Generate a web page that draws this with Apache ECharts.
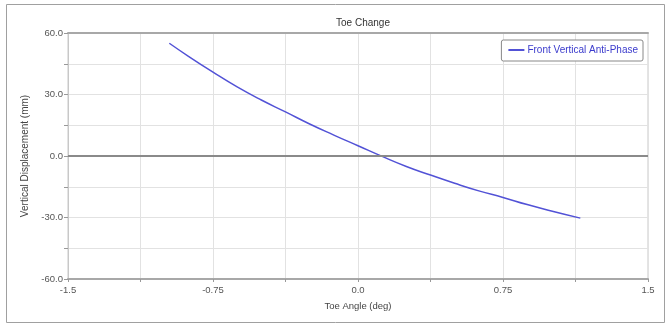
<!DOCTYPE html>
<html><head><meta charset="utf-8">
<script src="https://cdn.jsdelivr.net/npm/echarts@6/dist/echarts.min.js"></script>
<style>html,body{margin:0;padding:0;background:#fff}#c{width:672px;height:325px}</style>
</head><body><div id="c"></div>
<script>
var toeAngle = [-0.976, -0.875, -0.75, -0.625, -0.5, -0.375, -0.25, -0.125, 0, 0.125, 0.25, 0.375, 0.5, 0.625, 0.75, 0.875, 1.0, 1.15];
var verticalDisp = [55.0, 48.5, 40.9, 33.7, 27.3, 21.5, 15.6, 10.2, 5.0, -0.2, -5.1, -9.3, -13.3, -17.0, -20.2, -23.7, -26.8, -30.3];
var xTickLabels = ['-1.5', '-0.75', '0.0', '0.75', '1.5'];
var yTickLabels = ['60.0', '30.0', '0.0', '-30.0', '-60.0'];
var seriesName = 'Front Vertical Anti-Phase';

var chart = echarts.init(document.getElementById('c'), null, {renderer: 'canvas'});
var font = 'Liberation Sans, Arial, sans-serif';
var data = toeAngle.map(function (x, i) { return [x, verticalDisp[i]]; });

chart.setOption({
  animation: false,
  backgroundColor: '#fff',
  title: {
    text: 'Toe Change', left: 358, top: 13, textAlign: 'center',
    textStyle: {fontFamily: font, fontSize: 10, fontWeight: 'normal', color: '#333'}
  },
  legend: {
    data: [seriesName], right: 29, top: 40,
    backgroundColor: '#fff', borderColor: '#888', borderWidth: 1, borderRadius: 2,
    padding: [5, 5, 6, 7], itemWidth: 16, itemHeight: 2, itemGap: 4,
    icon: 'rect',
    textStyle: {fontFamily: font, fontSize: 10, color: '#3a3acc', padding: [0, 0, 0, -2]}
  },
  grid: {left: 68, right: 24, top: 33, bottom: 46, show: true, borderColor: '#c8c8c8', borderWidth: 1},
  graphic: [{
    type: 'rect', shape: {x: 6.5, y: 4.5, width: 658, height: 318},
    style: {fill: 'none', stroke: '#a0a0a0', lineWidth: 1}, silent: true, z: -1
  }],
  xAxis: [{
    type: 'value', min: -1.5, max: 1.5, interval: 0.375, position: 'bottom',
    name: 'Toe Angle (deg)', nameLocation: 'middle', nameGap: 22,
    nameTextStyle: {fontFamily: font, fontSize: 9.5, color: '#444'},
    axisLine: {show: true, onZero: false, lineStyle: {color: '#a8a8a8', width: 2}},
    axisTick: {show: true, length: 3, lineStyle: {color: '#999'}, interval: 0},
    splitLine: {show: true, lineStyle: {color: '#e2e2e2', width: 1}},
    axisLabel: {
      fontFamily: font, fontSize: 9.5, color: '#555', margin: 6, showMaxLabel: true, showMinLabel: true,
      formatter: function (v) {
        var k = Math.round((v + 1.5) / 0.375);
        return k % 2 === 0 ? xTickLabels[k / 2] : '';
      }
    }
  }, {
    type: 'value', min: -1.5, max: 1.5, interval: 0.375, position: 'top',
    axisLine: {show: true, onZero: false, lineStyle: {color: '#a8a8a8', width: 2}},
    axisTick: {show: false}, axisLabel: {show: false}, splitLine: {show: false}
  }],
  yAxis: {
    type: 'value', min: -60, max: 60, interval: 15, position: 'left',
    name: 'Vertical Displacement (mm)', nameLocation: 'middle', nameGap: 38, nameRotate: 90,
    nameTextStyle: {fontFamily: font, fontSize: 10, color: '#444'},
    axisLine: {show: true, onZero: false, lineStyle: {color: '#c8c8c8'}},
    axisTick: {show: true, length: 4, lineStyle: {color: '#999'}},
    splitLine: {show: true, lineStyle: {color: '#e2e2e2', width: 1}},
    axisLabel: {
      fontFamily: font, fontSize: 9.5, color: '#555', margin: 5,
      formatter: function (v) {
        var k = Math.round((60 - v) / 15);
        return k % 2 === 0 ? yTickLabels[k / 2] : '';
      }
    }
  },
  series: [{
    name: seriesName, type: 'line', data: data, smooth: true, showSymbol: false,
    lineStyle: {color: '#5252d6', width: 1.5}, itemStyle: {color: '#5252d6'},
    markLine: {
      silent: true, symbol: ['none', 'none'], label: {show: false},
      lineStyle: {color: '#8a8a8a', width: 2, type: 'solid'},
      data: [{yAxis: 0}]
    }
  }]
});
</script></body></html>
